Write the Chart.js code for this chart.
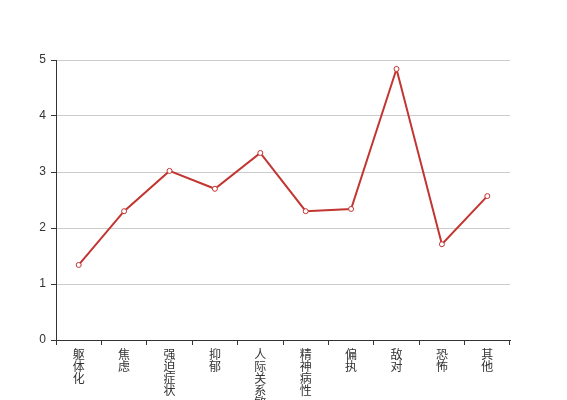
<!DOCTYPE html>
<html>
<head>
<meta charset="utf-8">
<script src="https://cdn.jsdelivr.net/npm/chart.js@4/dist/chart.umd.min.js"></script>
<style>
	html,body{margin:0;padding:0;background:#fff;overflow:hidden;}
	#wrap{width:567px;height:400px;position:relative;}
</style>
</head>
<body>
<div id="wrap"><canvas id="chart"></canvas></div>
<script>
// 数据
const categories = ['躯体化','焦虑','强迫症状','抑郁','人际关系敏感','精神病性','偏执','敌对','恐怖','其他'];
const scores = [1.34, 2.30, 3.02, 2.70, 3.34, 2.30, 2.34, 4.84, 1.71, 2.57];
const yTicks = [0, 1, 2, 3, 4, 5];

(function(){
	const lineColor = '#c23531';
	// 竖排标签：每个字一行
	const labels = categories.map(c => c.split(''));

	Chart.defaults.font.family = '"Helvetica Neue", Arial, "Liberation Sans", "Noto Sans CJK SC", sans-serif';
	Chart.defaults.font.size = 12;
	Chart.defaults.color = '#333';

	const ctx = document.getElementById('chart').getContext('2d');
	new Chart(ctx, {
		type: 'line',
		data: {
			labels,
			datasets: [{
				data: scores,
				borderColor: lineColor,
				borderWidth: 2,
				backgroundColor: '#fff',
				pointBackgroundColor: '#fff',
				pointBorderColor: lineColor,
				pointBorderWidth: 1,
				pointRadius: 2.5,
				tension: 0,
				fill: false
			}]
		},
		options: {
			responsive: true, maintainAspectRatio: false, animation: false,
			layout: { padding: { top: 60, right: 57, bottom: 0, left: 0 } },
			plugins: { legend: { display: false }, tooltip: { enabled: false } },
			scales: {
				x: {
					offset: true,
					grid: { display: true, drawOnChartArea: false, offset: true, tickColor: '#333', tickLength: 5 },
					border: { color: '#333', width: 1 },
					ticks: { color: '#333', maxRotation: 0, minRotation: 0, autoSkip: false, padding: 5, font: { size: 12, lineHeight: 1.0 } },
					afterFit(scale){ scale.height = 60; }
				},
				y: {
					min: yTicks[0], max: yTicks[yTicks.length-1],
					afterBuildTicks(scale){ scale.ticks = yTicks.map(v => ({ value: v })); },
					grid: { color: '#ccc', tickColor: '#333', tickLength: 5 },
					border: { color: '#333', width: 1 },
					ticks: { color: '#333', padding: 5, font: { size: 12 } },
					afterFit(scale){ scale.width = 56; }
				}
			}
		}
	});
})();
</script>
</body>
</html>
